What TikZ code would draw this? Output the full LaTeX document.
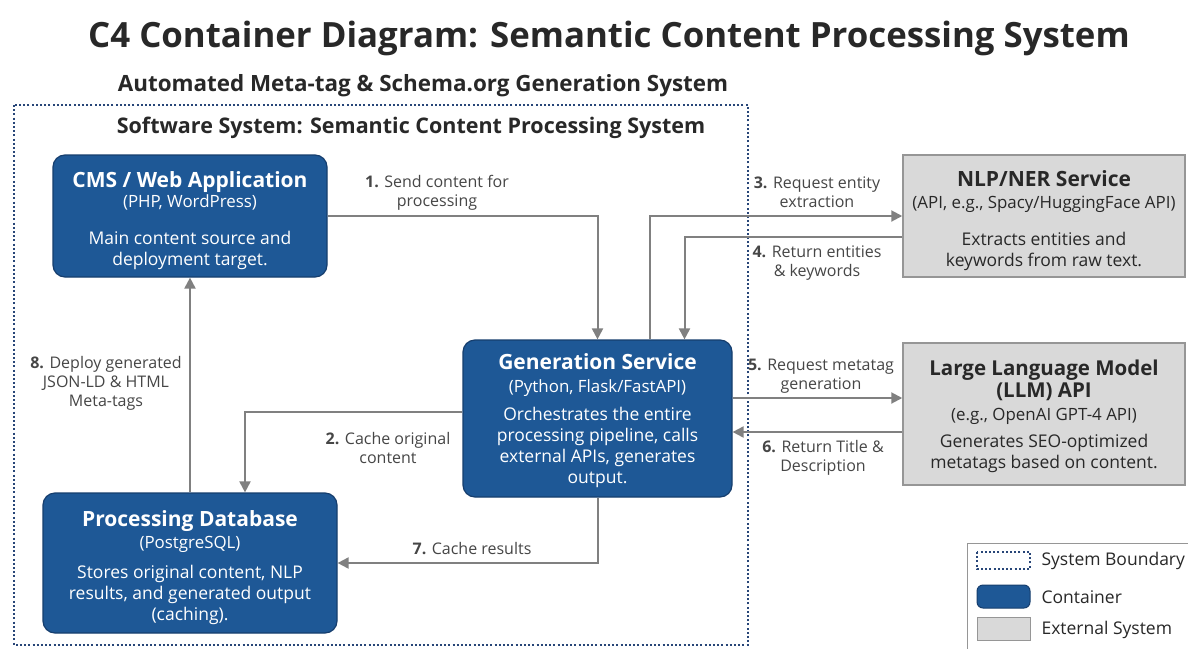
\documentclass[tikz,border=0pt]{standalone}
\usepackage{fontspec}
\setmainfont{Open Sans}
\usepackage{xcolor}
\usepackage{tikz}
\usetikzlibrary{arrows.meta,positioning}

\begin{document}
\begin{tikzpicture}[x=1pt,y=-1pt]
    \definecolor{cblue}{RGB}{30,88,150}
    \definecolor{cblued}{RGB}{22,62,110}
    \definecolor{cgray}{RGB}{217,217,217}
    \definecolor{cgrayd}{RGB}{150,150,150}
    \definecolor{carrow}{RGB}{128,128,128}
    \definecolor{ctext}{RGB}{40,40,40}
    \definecolor{clabel}{RGB}{70,70,70}
    \definecolor{cdot}{RGB}{40,70,120}

    \tikzstyle{container}=[rectangle,rounded corners=12pt,draw=cblued,line width=1.2pt,fill=cblue,text=white,align=center,inner sep=0pt,font=\fontsize{17.5}{21}\selectfont]  % 内部容器
    \tikzstyle{external}=[rectangle,draw=cgrayd,line width=1.5pt,fill=cgray,text=ctext,align=center,inner sep=0pt,font=\fontsize{17.5}{21}\selectfont]  % 外部系统
    \tikzstyle{arr}=[draw=carrow,line width=2pt,-{Triangle[length=11pt,width=11pt]}]  % 连接线
    \tikzstyle{lbl}=[text=clabel,align=center,font=\fontsize{16}{19}\selectfont]  % 连线说明
    \tikzstyle{boundary}=[draw=cdot,line width=2pt,dash pattern=on 2pt off 2.2pt]
    \tikzstyle{legend}=[anchor=west,text=ctext,font=\fontsize{17.5}{20}\selectfont]

    \useasboundingbox[fill=white] (0,0) rectangle (1188,648);

    % 标题
    \node[text=ctext,font=\fontsize{34.8}{38}\selectfont\bfseries](title) at (609,38){C4 Container Diagram: Semantic Content Processing System};
    \node[text=ctext,font=\fontsize{22.4}{26}\selectfont\bfseries](sub) at (423,86){Automated Meta-tag \& Schema.org Generation System};

    % 系统边界
    \draw[boundary] (14,105) rectangle (748,645);
    \node[text=ctext,font=\fontsize{21.5}{25}\selectfont\bfseries](bname) at (411,128){Software System: Semantic Content Processing System};

    % 容器
    \node[container,minimum width=274pt,minimum height=122pt](cms) at (190,216){%
        \fontsize{21}{21}\selectfont\bfseries\rule{0pt}{24.6pt}CMS / Web Application\\[-1pt]
        \fontsize{16.9}{21}\selectfont (PHP, WordPress)\\[16pt]
        Main content source and\\deployment target.};
    \node[container,minimum width=269pt,minimum height=157pt](gen) at (597.5,418.5){%
        \fontsize{21}{21}\selectfont\bfseries\rule{0pt}{19.8pt}Generation Service\\[2pt]
        \fontsize{16.9}{21}\selectfont (Python, Flask/FastAPI)\\[7pt]
        Orchestrates the entire\\processing pipeline, calls\\external APIs, generates\\output.};
    \node[container,minimum width=294pt,minimum height=140pt](db) at (190,563){%
        \fontsize{21}{21}\selectfont\bfseries\rule{0pt}{25.6pt}Processing Database\\[1pt]
        \fontsize{16.9}{21}\selectfont (PostgreSQL)\\[9pt]
        Stores original content, NLP\\results, and generated output\\(caching).};

    % 外部系统
    \node[external,minimum width=282pt,minimum height=122pt](nlp) at (1044,216){%
        \fontsize{21}{21}\selectfont\bfseries\rule{0pt}{24.6pt}NLP/NER Service\\[1pt]
        \fontsize{16.9}{21}\selectfont (API, e.g., Spacy/HuggingFace API)\\[16pt]
        Extracts entities and\\keywords from raw text.};
    \node[external,minimum width=282pt,minimum height=142pt](llm) at (1044,414){%
        \fontsize{20.5}{21}\selectfont\bfseries\rule{0pt}{20.6pt}Large Language Model\\[1pt]
        \fontsize{20.5}{21}\selectfont\bfseries (LLM) API\\[2pt]
        \fontsize{16.9}{21}\selectfont (e.g., OpenAI GPT-4 API)\\[6pt]
        Generates SEO-optimized\\metatags based on content.};

    % 开始画线
    \draw[arr] (cms.east) -| (gen.north);
    \draw[arr] ([xshift=52pt]gen.north) |- (nlp.west);
    \draw[arr] ([yshift=-21pt]nlp.west) -| ([xshift=87pt]gen.north);
    \draw[arr] ([yshift=20.5pt]gen.east) -- ([yshift=20.5pt]gen.east -| llm.west);
    \draw[arr] ([yshift=-18pt]llm.west) -- ([yshift=-18pt]llm.west -| gen.east);
    \draw[arr] ([yshift=6.5pt]gen.west) -| ([xshift=55pt]db.north);
    \draw[arr] (gen.south) |- (db.east);
    \draw[arr] (db.north) -- (cms.south);

    % 连线说明
    \node[lbl](l1) at (437,193){\textbf{1.} Send content for\\processing};
    \node[lbl](l2) at (388,448){\textbf{2.} Cache original\\content};
    \node[lbl](l3) at (817,192){\textbf{3.} Request entity\\extraction};
    \node[lbl](l4) at (817,263){\textbf{4.} Return entities\\\& keywords};
    \node[lbl](l5) at (821,376){\textbf{5.} Request metatag\\generation};
    \node[lbl](l6) at (823,458){\textbf{6.} Return Title \&\\Description};
    \node[lbl](l7) at (472,549){\textbf{7.} Cache results};
    \node[lbl](l8) at (106,383){\textbf{8.} Deploy generated\\JSON-LD \& HTML\\Meta-tags};

    % 图例
    \draw[draw=cgrayd,line width=1pt] (967,543) rectangle (1192,652);
    \draw[boundary,line width=1.5pt] (977,552) rectangle (1030,569);
    \node[legend](lg1) at (1038,561){System Boundary};
    \draw[draw=cblued,fill=cblue,rounded corners=6pt,line width=1pt] (977,585) rectangle (1030,608);
    \node[legend](lg2) at (1038,597){Container};
    \draw[draw=cgrayd,fill=cgray,line width=1pt] (977,617) rectangle (1030,640);
    \node[legend](lg3) at (1038,630){External System};
\end{tikzpicture}
\end{document}
